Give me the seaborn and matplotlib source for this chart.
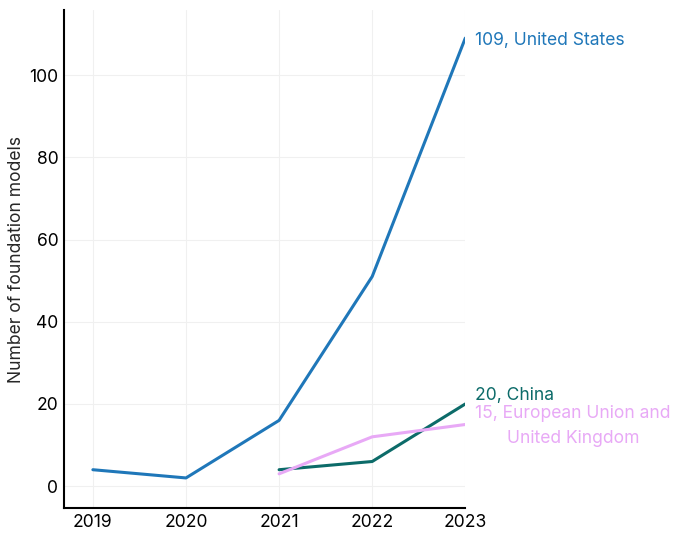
import pandas as pd
import matplotlib.pyplot as plt
import seaborn as sns

years_us = [2019, 2020, 2021, 2022, 2023]
us = [4, 2, 16, 51, 109]
years_other = [2021, 2022, 2023]
china = [4, 6, 20]
eu_uk = [3, 12, 15]

df = pd.concat([
    pd.DataFrame({'year': years_us, 'models': us, 'region': 'United States'}),
    pd.DataFrame({'year': years_other, 'models': china, 'region': 'China'}),
    pd.DataFrame({'year': years_other, 'models': eu_uk, 'region': 'European Union and United Kingdom'}),
])

colors = {
    'United States': '#1f77b9',
    'China': '#0c6b69',
    'European Union and United Kingdom': '#e8a9f6',
}

sns.set_style('white')
plt.rcParams['font.family'] = ['Inter', 'DejaVu Sans']
fs = 12.6

fig = plt.figure(figsize=(6.86, 5.33), dpi=100)
ax = fig.add_axes([0.0933, 0.047, 0.585, 0.934])

sns.lineplot(data=df, x='year', y='models', hue='region', palette=colors,
             linewidth=2.2, legend=False, ax=ax)

ax.set_xlim(2018.69, 2023.0)
ax.set_ylim(-5.3, 115.8)
ax.set_xticks(years_us)
ax.set_yticks([0, 20, 40, 60, 80, 100])
ax.grid(True, color='#f0f0f0', linewidth=0.8)
ax.tick_params(labelsize=fs, length=0, pad=4, colors='black')
ax.set_xlabel('')
ax.set_ylabel('Number of foundation models', fontsize=fs)
ax.yaxis.set_label_coords(-0.098, 0.5)

for s in ['top', 'right']:
    ax.spines[s].set_visible(False)
for s in ['left', 'bottom']:
    ax.spines[s].set_color('black')
    ax.spines[s].set_linewidth(1.5)

ax.annotate(f'{us[-1]}, United States', xy=(2023, us[-1]), xytext=(7, -2),
            textcoords='offset points', color=colors['United States'],
            fontsize=fs, va='center', ha='left', annotation_clip=False)
ax.annotate(f'{china[-1]}, China', xy=(2023, china[-1]), xytext=(7, 6),
            textcoords='offset points', color=colors['China'],
            fontsize=fs, va='center', ha='left', annotation_clip=False)
ax.annotate(f'{eu_uk[-1]}, European Union and\nUnited Kingdom', xy=(2023, eu_uk[-1]),
            xytext=(7, -1), textcoords='offset points',
            color=colors['European Union and United Kingdom'],
            fontsize=fs, va='center', ha='left', multialignment='center',
            linespacing=1.6, annotation_clip=False)

fig.savefig('out.png', dpi=100)
